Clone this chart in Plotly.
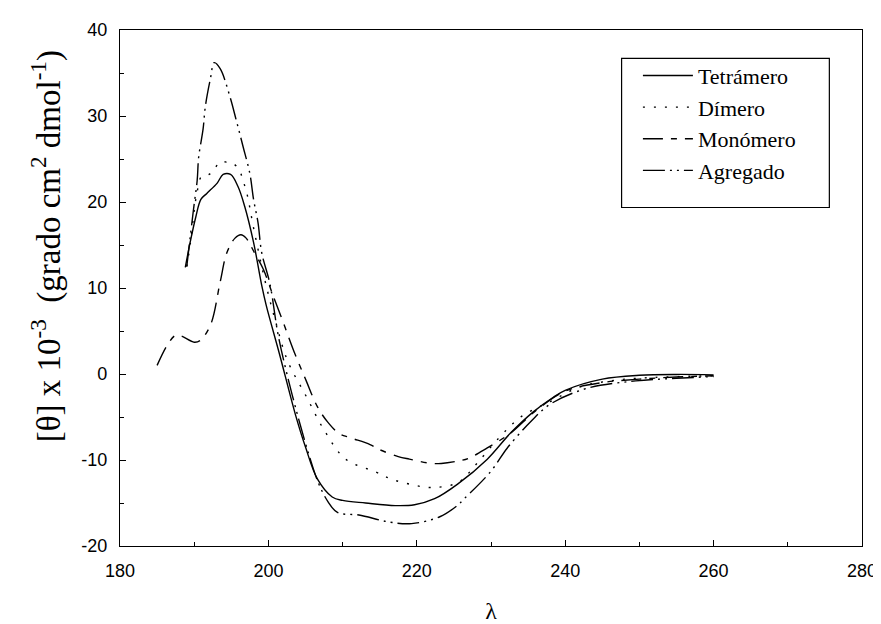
import plotly.graph_objects as go

# Tetrámero
tet_x = [188.8, 189.5, 190.2, 190.9, 191.7, 193.1, 193.9, 194.9, 195.9, 196.8, 198.0, 199.1, 199.7, 201.5,
         203.7, 205.0, 206.6, 208.6, 210.0, 213.1, 217.1, 219.7, 222.4, 225.5, 229.5, 232.6, 235.7, 238.4,
         240.0, 245.0, 250.0, 255.0, 260.0]
tet_y = [12.4, 15.5, 18.2, 20.3, 21.0, 22.2, 23.2, 23.2, 21.8, 19.5, 15.3, 10.3, 8.0, 2.3,
         -4.9, -8.5, -12.2, -14.3, -14.7, -15.0, -15.3, -15.2, -14.5, -12.8, -9.9, -6.9, -4.4, -2.7,
         -1.9, -0.6, -0.15, -0.05, -0.1]

# Dímero
dim_x = [189.0, 189.5, 190.0, 190.4, 191.0, 192.0, 192.7, 193.5, 194.5, 195.2, 196.1, 196.5, 197.1, 198.0,
         199.5, 201.0, 202.6, 205.1, 207.5, 210.4, 214.5, 216.5, 219.0, 222.0, 225.6, 228.0, 231.0, 234.0,
         238.0, 242.0, 247.0, 252.0, 260.0]
dim_y = [12.5, 15.3, 19.0, 21.2, 23.0, 23.2, 23.8, 24.7, 24.6, 24.5, 23.7, 22.7, 21.0, 17.0,
         11.0, 6.0, 1.5, -2.6, -6.5, -9.9, -11.4, -12.2, -12.8, -13.2, -12.6, -10.5, -7.5, -5.0,
         -3.2, -1.5, -0.7, -0.4, -0.2]

# Monómero
mon_x = [185.0, 186.4, 187.5, 188.3, 190.0, 190.8, 192.2, 193.5, 194.4, 195.5, 196.3, 197.0, 198.0, 199.3,
         200.6, 202.0, 203.5, 205.1, 206.6, 208.0, 209.5, 211.0, 213.7, 215.0, 217.5, 219.0, 222.0, 223.3,
         225.7, 227.0, 229.5, 232.6, 236.0, 240.0, 245.0, 250.0, 255.0, 260.0]
mon_y = [1.0, 3.4, 4.5, 4.4, 3.7, 3.9, 5.7, 10.7, 14.1, 15.8, 16.2, 15.8, 14.3, 12.2,
         9.2, 6.0, 2.5, -0.8, -3.8, -5.6, -6.9, -7.4, -8.2, -8.8, -9.6, -9.9, -10.4, -10.4,
         -10.1, -9.8, -8.6, -6.9, -4.3, -2.0, -1.0, -0.6, -0.35, -0.2]

# Agregado
agr_x = [189.0, 189.9, 190.4, 190.6, 191.2, 191.5, 192.2, 192.7, 193.5, 194.8, 195.7, 196.6, 197.5, 198.0,
         198.6, 199.1, 200.2, 201.3, 202.5, 204.0, 205.5, 206.8, 208.0, 209.3, 212.2, 216.2, 219.3, 223.1,
         225.3, 226.4, 230.0, 232.2, 235.5, 238.0, 242.8, 249.5, 255.0, 260.0]
agr_y = [12.5, 19.1, 22.5, 25.2, 28.5, 31.1, 34.4, 36.2, 35.5, 32.3, 29.4, 26.4, 23.3, 20.3,
         17.6, 14.1, 10.5, 4.6, 0.0, -5.0, -9.5, -12.8, -14.8, -16.1, -16.4, -17.2, -17.4, -16.6,
         -15.4, -14.5, -11.3, -8.6, -5.4, -3.5, -1.7, -0.8, -0.5, -0.3]

x_ticks = [180, 200, 220, 240, 260, 280]
y_ticks = [-20, -10, 0, 10, 20, 30, 40]

serif = "Liberation Serif, Times New Roman, serif"
sans = "Liberation Sans, Arial, sans-serif"

fig = go.Figure()
lw = 1.4
fig.add_trace(go.Scatter(x=tet_x, y=tet_y, mode="lines", name="Tetrámero",
                         line=dict(color="black", width=lw, dash="solid", shape="spline")))
fig.add_trace(go.Scatter(x=dim_x, y=dim_y, mode="lines", name="Dímero",
                         line=dict(color="black", width=lw, dash="2px,9px", shape="spline")))
fig.add_trace(go.Scatter(x=mon_x, y=mon_y, mode="lines", name="Monómero",
                         line=dict(color="black", width=lw, dash="20px,8px,6px,8px", shape="spline")))
fig.add_trace(go.Scatter(x=agr_x, y=agr_y, mode="lines", name="Agregado",
                         line=dict(color="black", width=lw, dash="22px,5px,2px,5px,2px,5px", shape="spline")))

fig.update_layout(
    width=881, height=624,
    margin=dict(l=112, r=19, t=22, b=79),
    paper_bgcolor="white", plot_bgcolor="white",
    showlegend=True,
    legend=dict(x=0.698, y=0.952, xanchor="left", yanchor="top",
                borderwidth=0, bgcolor="rgba(0,0,0,0)",
                font=dict(family=serif, size=22, color="black"),
                tracegroupgap=0, itemwidth=50),
    shapes=[dict(type="rect", xref="paper", yref="paper",
                 x0=0.676, x1=0.956, y0=0.656, y1=0.945,
                 line=dict(color="black", width=1.2), fillcolor="rgba(0,0,0,0)")],
    annotations=[dict(text="[θ] x 10<sup>-3</sup>\u00a0 (grado cm<sup>2</sup> dmol<sup>-1</sup>)",
                      xref="paper", yref="paper", x=0, y=0.58, xanchor="right", yanchor="middle",
                      xshift=-50, textangle=-90, showarrow=False,
                      font=dict(family=serif, size=33, color="black"))],
)
fig.update_xaxes(
    range=[180, 280], tickvals=x_ticks, ticktext=[str(v) for v in x_ticks],
    showline=True, linecolor="black", linewidth=1.2, mirror=True,
    ticks="inside", ticklen=6, tickcolor="black", ticklabelstandoff=8,
    minor=dict(dtick=10, ticks="inside", ticklen=4, tickcolor="black"),
    showgrid=False, zeroline=False,
    tickfont=dict(family=sans, size=18, color="black"),
    title=dict(text="λ", font=dict(family=serif, size=24, color="black"), standoff=22),
)
fig.update_yaxes(
    range=[-20, 40], tickvals=y_ticks, ticktext=[str(v) for v in y_ticks],
    showline=True, linecolor="black", linewidth=1.2, mirror=True,
    ticks="inside", ticklen=6, tickcolor="black", ticklabelstandoff=8,
    minor=dict(dtick=5, ticks="inside", ticklen=4, tickcolor="black"),
    showgrid=False, zeroline=False,
    tickfont=dict(family=sans, size=18, color="black"),
)

fig.write_html("out.html")
